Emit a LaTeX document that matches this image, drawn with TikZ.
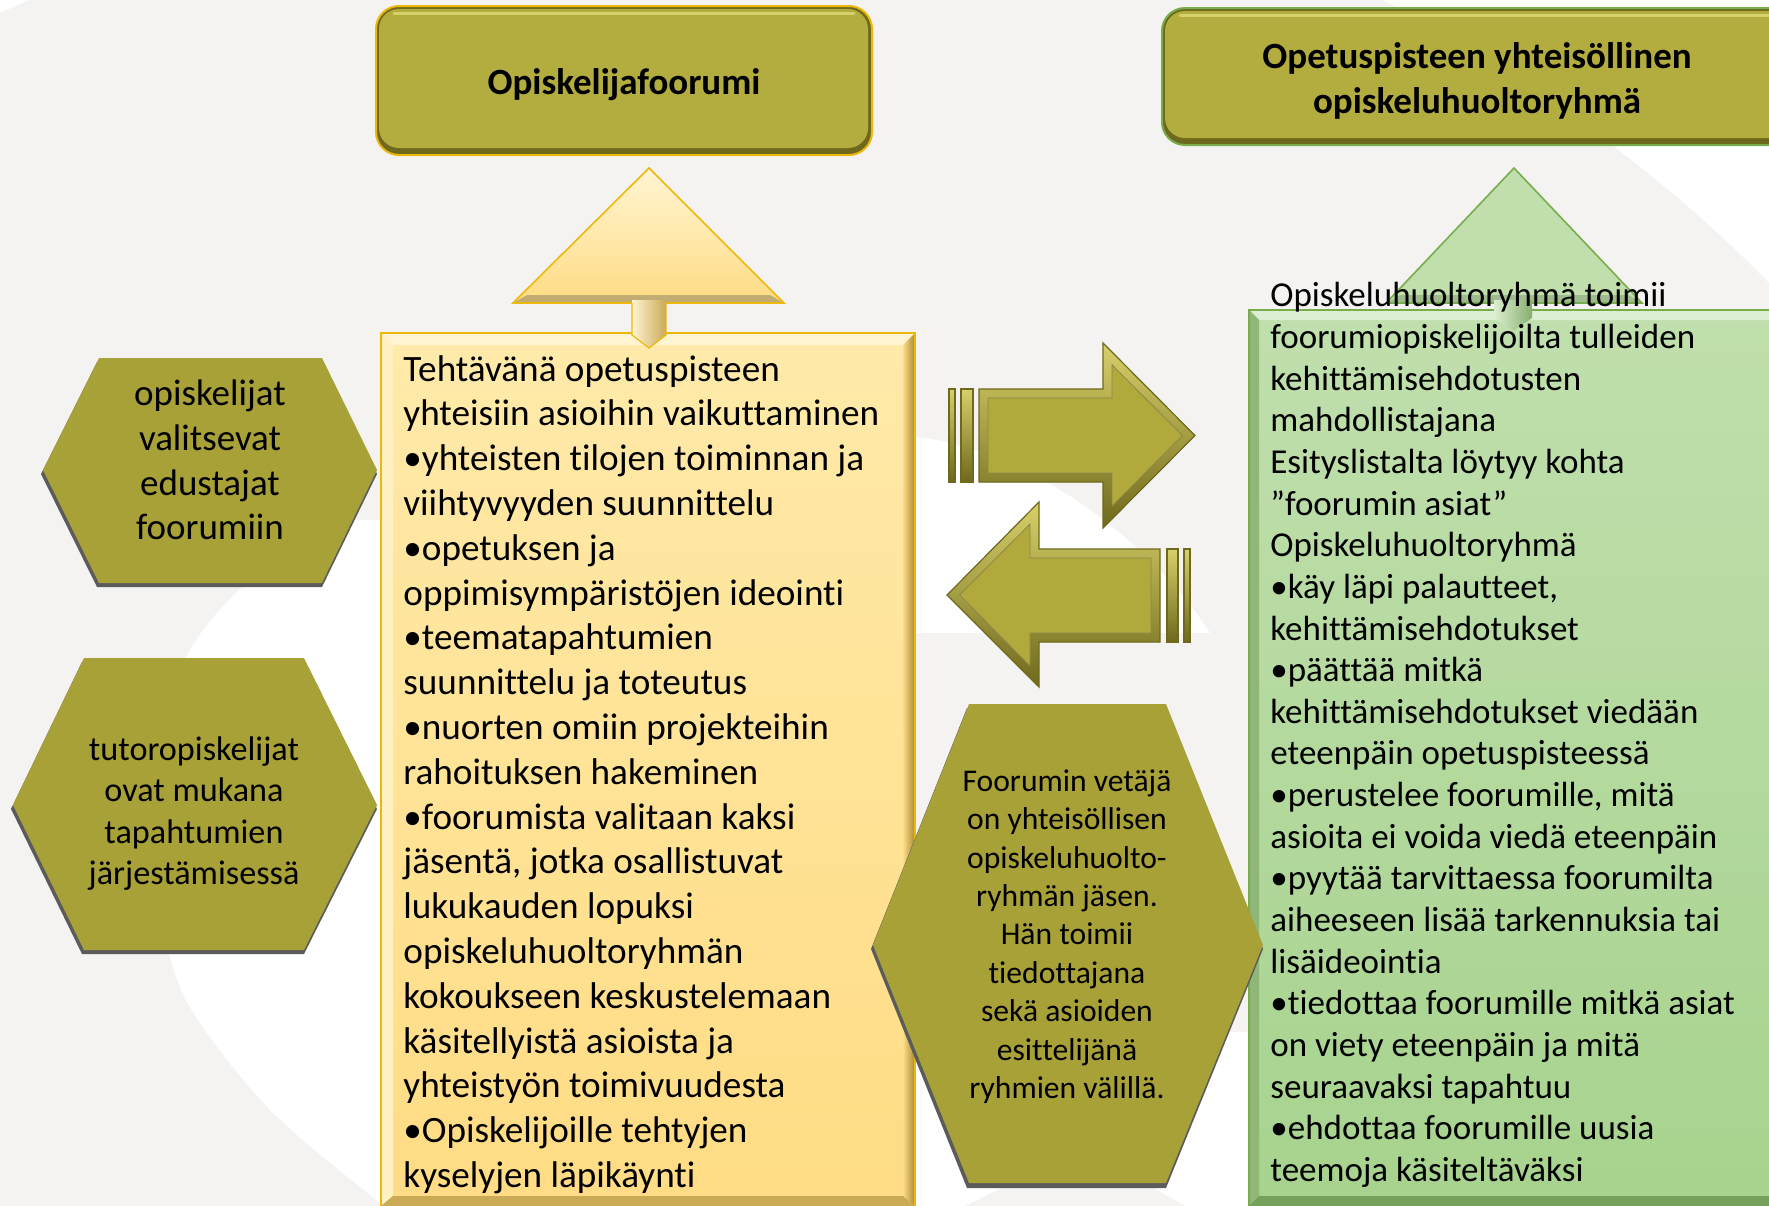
\documentclass[tikz,border=0pt]{standalone}
\usepackage{fontspec}
\setmainfont{Carlito}[Ligatures={NoCommon}]
\definecolor{bggrey}{HTML}{F4F3F1}
\definecolor{olive}{HTML}{B3AC3E}
\definecolor{olivehex}{HTML}{A8A137}
\definecolor{olivedark}{HTML}{6E691C}
\definecolor{olivelight}{HTML}{D8D06A}
\definecolor{arrowfill}{HTML}{B1A93B}
\definecolor{goldline}{HTML}{EDB80C}
\definecolor{ylwtop}{HTML}{FFEAAA}
\definecolor{ylwbot}{HTML}{FFDC84}
\definecolor{ylwlight}{HTML}{FFF4D2}
\definecolor{ylwdark}{HTML}{A88838}
\definecolor{grntop}{HTML}{C0DFAD}
\definecolor{grnbot}{HTML}{A7D38E}
\definecolor{grnlight}{HTML}{DDEFD2}
\definecolor{grnline}{HTML}{78AD4C}
\definecolor{grndark}{HTML}{5F8D43}
\definecolor{shadowgrey}{HTML}{5B5B5B}
\begin{document}
\begin{tikzpicture}[x=0.5pt,y=-0.5pt,
  txt/.style={inner sep=0pt, text=black},
  hexshape/.style={fill=olivehex},
  hexshadow/.style={fill=shadowgrey},
  arrowouter/.style={top color=olivelight, bottom color=olivedark},
  arrowinner/.style={fill=arrowfill, draw=olivedark!80, line width=0.4pt},
  arrowedge/.style={draw=olivedark, line width=0.6pt}]
\useasboundingbox (0,0) rectangle (1769,1206);
% background
\fill[bggrey] (0,0) rectangle (1769,1206);
\fill[white] plot[smooth] coordinates {(330,520) (240,589) (186,658) (163,760) (160,900) (186,1000) (270,1110) (384,1206)} -- (600,1206) -- (600,520) -- cycle;
\fill[white] (917,437) .. controls (1030,450) and (1150,540) .. (1210,633) -- (900,633) -- (900,437) -- cycle;
\fill[white] (900,1032) rectangle (1255,1206);
\fill[bggrey] (965,1206) -- (1005,1186) -- (1150,1186) -- (1185,1206) -- cycle;
\fill[white] (1382,0) .. controls (1500,60) and (1650,160) .. (1769,283) -- (1769,0) -- cycle;
\fill[white] (0,0) -- (29,0) -- (0,13) -- cycle;

% ---------- title box 1
\fill[olivedark, rounded corners=11.5pt] (376,6) rectangle (872,155);
\fill[olive, rounded corners=10pt] (379,9) rectangle (868,148);
\draw[olivelight, line width=1.5pt, line cap=round] (394,13) -- (854,13);
\draw[goldline, line width=1pt, rounded corners=11.5pt] (376,6) rectangle (872,155);
\node[txt, font=\fontsize{18.5pt}{22.5pt}\selectfont\bfseries] (title1) at (624,84.5) {Opiskelijafoorumi};

% ---------- title box 2
\fill[olivedark, rounded corners=11.5pt] (1162,8) rectangle (1800,145);
\fill[olive, rounded corners=10pt] (1165,11) rectangle (1800,138);
\draw[olivelight, line width=1.5pt, line cap=round] (1180,15) -- (1790,15);
\draw[grnline, line width=1pt, rounded corners=11.5pt] (1162,8) rectangle (1800,145);
\node[txt, align=center, font=\fontsize{18.5pt}{22.5pt}\selectfont\bfseries] (title2) at (1477,80.5) {Opetuspisteen yhteisöllinen\\opiskeluhuoltoryhmä};

% ---------- yellow up arrow (head)
\shade[top color=ylwlight, bottom color=ylwbot] (649,168) -- (784,303) -- (513,303) -- cycle;
\fill[ylwdark!70] (513,303) -- (784,303) -- (770,295) -- (527,295) -- cycle;
\draw[goldline, line width=0.8pt] (649,168) -- (784,303) -- (513,303) -- cycle;

% ---------- green up arrow (head)
\fill[grntop] (1514,168) -- (1642,303) -- (1386,303) -- cycle;
\fill[grndark!60] (1386,303) -- (1642,303) -- (1628,295) -- (1400,295) -- cycle;
\draw[grnline, line width=0.8pt] (1514,168) -- (1642,303) -- (1386,303) -- cycle;

% ---------- yellow box
\shade[top color=ylwtop, bottom color=ylwbot] (381,333) rectangle (915,1206);
\fill[ylwlight] (381,333) -- (915,333) -- (903,345) -- (393,345) -- cycle;
\fill[ylwlight!60!ylwtop] (381,333) -- (393,345) -- (393,1196) -- (381,1206) -- cycle;
\shade[left color=ylwbot, right color=ylwdark] (903,345) -- (915,333) -- (915,1206) -- (903,1196) -- cycle;
\fill[ylwdark!60!ylwbot] (381,1206) -- (393,1196) -- (903,1196) -- (915,1206) -- cycle;
\draw[goldline, line width=0.8pt] (381,1206) -- (381,333) -- (915,333) -- (915,1206);
% stem
\shade[left color=ylwlight, right color=ylwdark!60!ylwbot] (632,300) -- (666,300) -- (666,335) -- (649,348) -- (632,335) -- cycle;
\draw[goldline, line width=0.6pt] (632,303) -- (632,335) -- (649,348) -- (666,335) -- (666,303);

\node[txt, anchor=west, align=left, font=\fontsize{18.6pt}{22.4pt}\selectfont] (yellowtext) at (403,774.5) {Tehtävänä opetuspisteen\\
yhteisiin asioihin vaikuttaminen\\
•yhteisten tilojen toiminnan ja\\
viihtyvyyden suunnittelu\\
•opetuksen ja\\
oppimisympäristöjen ideointi\\
•teematapahtumien\\
suunnittelu ja toteutus\\
•nuorten omiin projekteihin\\
rahoituksen hakeminen\\
•foorumista valitaan kaksi\\
jäsentä, jotka osallistuvat\\
lukukauden lopuksi\\
opiskeluhuoltoryhmän\\
kokoukseen keskustelemaan\\
käsitellyistä asioista ja\\
yhteistyön toimivuudesta\\
•Opiskelijoille tehtyjen\\
kyselyjen läpikäynti};

% ---------- green box
\shade[top color=grntop, bottom color=grnbot] (1249,310) rectangle (1800,1206);
\fill[grnlight] (1249,310) -- (1800,310) -- (1800,320) -- (1259,320) -- cycle;
\fill[grndark!50!grntop] (1249,310) -- (1259,320) -- (1259,1196) -- (1249,1206) -- cycle;
\fill[grndark!70!grnbot] (1249,1206) -- (1259,1196) -- (1800,1196) -- (1800,1206) -- cycle;
\draw[grnline, line width=0.8pt] (1249,1206) -- (1249,310) -- (1800,310);
% stem
\shade[left color=grnlight, right color=grndark!60!grntop] (1494,300) -- (1532,300) -- (1532,318) -- (1513,331) -- (1494,318) -- cycle;

\node[txt, anchor=west, align=left, font=\fontsize{17.5pt}{20.83pt}\selectfont] (greentext) at (1270,735) {Opiskeluhuoltoryhmä toimii\\
foorumiopiskelijoilta tulleiden\\
kehittämisehdotusten\\
mahdollistajana\\
Esityslistalta löytyy kohta\\
”foorumin asiat”\\
Opiskeluhuoltoryhmä\\
•käy läpi palautteet,\\
kehittämisehdotukset\\
•päättää mitkä\\
kehittämisehdotukset viedään\\
eteenpäin opetuspisteessä\\
•perustelee foorumille, mitä\\
asioita ei voida viedä eteenpäin\\
•pyytää tarvittaessa foorumilta\\
aiheeseen lisää tarkennuksia tai\\
lisäideointia\\
•tiedottaa foorumille mitkä asiat\\
on viety eteenpäin ja mitä\\
seuraavaksi tapahtuu\\
•ehdottaa foorumille uusia\\
teemoja käsiteltäväksi};

% ---------- right arrow
\shade[arrowouter] (949,389) rectangle (955,482);
\shade[arrowouter] (961,389) rectangle (973,482);
\draw[arrowedge] (949,389) rectangle (955,482);
\draw[arrowedge] (961,389) rectangle (973,482);
\shade[arrowouter] (979,389) -- (1103,389) -- (1103,343) -- (1195,435.5) -- (1103,528) -- (1103,482) -- (979,482) -- cycle;
\fill[arrowinner] (988,398) -- (1112,398) -- (1112,364.8) -- (1182.3,435.5) -- (1112,506.2) -- (1112,473) -- (988,473) -- cycle;
\draw[arrowedge] (979,389) -- (1103,389) -- (1103,343) -- (1195,435.5) -- (1103,528) -- (1103,482) -- (979,482) -- cycle;
\coordinate (rightarrowtip) at (1195,435.5);

% ---------- left arrow
\shade[arrowouter] (947,595) -- (1039,502) -- (1039,549) -- (1160,549) -- (1160,642) -- (1039,642) -- (1039,687) -- cycle;
\fill[arrowinner] (959.7,595) -- (1030,524) -- (1030,558) -- (1151,558) -- (1151,633) -- (1030,633) -- (1030,666) -- cycle;
\draw[arrowedge] (947,595) -- (1039,502) -- (1039,549) -- (1160,549) -- (1160,642) -- (1039,642) -- (1039,687) -- cycle;
\shade[arrowouter] (1167,549) rectangle (1178,642);
\shade[arrowouter] (1184,549) rectangle (1190,642);
\draw[arrowedge] (1167,549) rectangle (1178,642);
\draw[arrowedge] (1184,549) rectangle (1190,642);
\coordinate (leftarrowtip) at (947,595);

% ---------- hexagons
\fill[hexshadow] (97,362) -- (322,362) -- (377,474) -- (322,587) -- (97,587) -- (41,474) -- cycle;
\fill[hexshape] (99,358) -- (322,358) -- (377,470) -- (322,583) -- (99,583) -- (43,470) -- cycle;
\node[txt, align=center, font=\fontsize{18.5pt}{22.4pt}\selectfont] (hex1) at (210,460) {opiskelijat\\valitsevat\\edustajat\\foorumiin};

\fill[hexshadow] (82,662) -- (304,662) -- (377,809) -- (304,954) -- (82,954) -- (11,809) -- cycle;
\fill[hexshape] (84,658) -- (304,658) -- (377,805) -- (304,950) -- (84,950) -- (13,805) -- cycle;
\node[txt, align=center, font=\fontsize{17.1pt}{20.7pt}\selectfont] (hex2) at (194,813.5) {tutoropiskelijat\\ovat mukana\\tapahtumien\\järjestämisessä};

\fill[hexshadow] (967,708) -- (1166,708) -- (1263,949) -- (1166,1188) -- (967,1188) -- (871,949) -- cycle;
\fill[hexshape] (969,704) -- (1166,704) -- (1263,945) -- (1166,1183) -- (969,1183) -- (873,945) -- cycle;
\node[txt, align=center, font=\fontsize{15.8pt}{19.2pt}\selectfont] (hex3) at (1067,936.5) {Foorumin vetäjä\\on yhteisöllisen\\opiskeluhuolto-\\ryhmän jäsen.\\Hän toimii\\tiedottajana\\sekä asioiden\\esittelijänä\\ryhmien välillä.};
\end{tikzpicture}
\end{document}
